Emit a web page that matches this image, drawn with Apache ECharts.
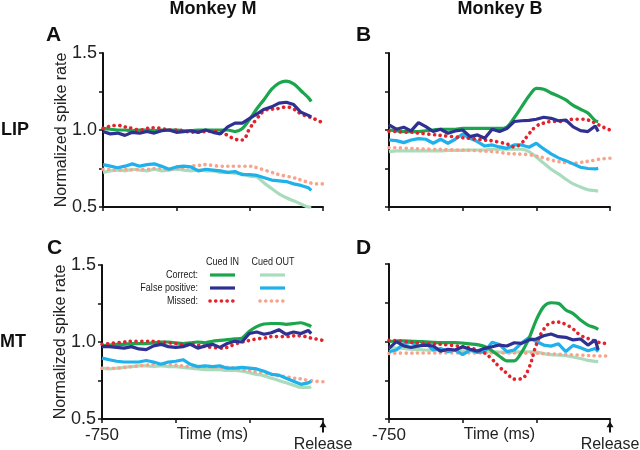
<!DOCTYPE html>
<html><head><meta charset="utf-8">
<script src="https://cdn.jsdelivr.net/npm/echarts@6/dist/echarts.min.js"></script>
<style>html,body{margin:0;padding:0;background:#fff}#c{width:640px;height:450px}</style>
</head><body><div id="c"></div>
<script>
// Time points (ms relative to release)
const T = [-750,-725,-700,-675,-650,-625,-600,-575,-550,-525,-500,-475,-450,-425,-400,-375,-350,-325,-300,-275,-250,-225,-200,-175,-150,-125,-100,-75,-50,-40,-25,0];
const xTicks = [-750, 0];
const yTickLabels = [0.5, 1.0, 1.5];
const colTitles = ['Monkey M', 'Monkey B'];
const rowTitles = ['LIP', 'MT'];
const panelLetters = ['A', 'B', 'C', 'D'];

// Panel A: Monkey M, LIP
const aCorrIn  = [1.01,1.005,1.0,1.0,0.995,1.0,1.0,0.995,1.0,1.0,1.0,0.995,0.995,1.0,1.0,1.0,1.0,1.0,0.99,1.01,1.07,1.14,1.2,1.265,1.305,1.318,1.3,1.255,1.21,1.185];
const aFalseIn = [0.99,0.975,0.98,0.965,0.985,0.98,0.99,0.98,0.995,1.0,0.985,0.99,0.995,0.985,1.0,0.985,0.975,1.02,1.045,1.045,1.075,1.105,1.135,1.15,1.175,1.18,1.165,1.115,1.095,1.085];
const aMissIn  = [1.01,1.025,1.03,1.02,1.01,1.0,1.01,1.015,1.01,1.0,1.0,0.995,0.985,0.985,0.99,0.99,0.985,0.965,0.94,0.935,1.01,1.075,1.125,1.135,1.14,1.15,1.135,1.105,1.087,1.08,1.068,1.045];
const aCorrOut = [0.725,0.735,0.74,0.735,0.745,0.74,0.735,0.745,0.735,0.74,0.745,0.74,0.735,0.74,0.735,0.735,0.725,0.725,0.72,0.715,0.7,0.695,0.655,0.62,0.585,0.56,0.54,0.52,0.5,0.5];
const aFalseOut= [0.775,0.765,0.755,0.765,0.78,0.765,0.775,0.78,0.765,0.745,0.76,0.765,0.76,0.735,0.745,0.74,0.735,0.725,0.73,0.71,0.71,0.705,0.69,0.675,0.67,0.665,0.65,0.64,0.625,0.608];
const aMissOut = [0.745,0.745,0.74,0.745,0.74,0.745,0.745,0.75,0.75,0.745,0.75,0.755,0.765,0.77,0.775,0.77,0.765,0.765,0.765,0.765,0.765,0.755,0.74,0.725,0.71,0.7,0.69,0.675,0.66,0.655,0.65,0.65];

// Panel B: Monkey B, LIP
const bCorrIn  = [1.0,0.995,0.99,0.99,0.99,0.995,1.0,1.005,1.005,1.005,1.01,1.01,1.01,1.01,1.01,1.01,1.02,1.08,1.15,1.22,1.27,1.265,1.24,1.22,1.195,1.16,1.135,1.11,1.06,1.055];
const bFalseIn = [1.033,1.005,1.018,0.994,1.048,1.022,0.99,1.005,0.979,0.994,1.0,0.957,0.968,0.946,1.005,0.99,1.01,1.055,1.06,1.063,1.07,1.083,1.076,1.06,1.065,1.02,0.996,0.99,1.026,0.99];
const bMissIn  = [0.99,0.99,0.985,0.985,0.98,0.975,0.97,0.965,0.96,0.955,0.95,0.945,0.94,0.935,0.93,0.92,0.91,0.89,0.915,0.975,1.025,1.045,1.055,1.055,1.06,1.07,1.07,1.065,1.045,1.035,1.02,1.0];
const bCorrOut = [0.86,0.865,0.865,0.865,0.865,0.865,0.865,0.865,0.868,0.868,0.868,0.87,0.87,0.87,0.875,0.875,0.875,0.875,0.875,0.86,0.825,0.785,0.745,0.715,0.68,0.65,0.63,0.612,0.606,0.604];
const bFalseOut= [0.935,0.931,0.918,0.935,0.944,0.94,0.914,0.94,0.914,0.94,0.974,0.946,0.925,0.896,0.903,0.89,0.881,0.903,0.903,0.888,0.914,0.877,0.845,0.819,0.801,0.78,0.758,0.75,0.747,0.751];
const bMissOut = [0.885,0.885,0.882,0.88,0.878,0.876,0.875,0.874,0.872,0.87,0.87,0.868,0.866,0.862,0.86,0.855,0.848,0.845,0.843,0.84,0.83,0.82,0.805,0.795,0.788,0.785,0.79,0.797,0.805,0.81,0.813,0.817];

// Panel C: Monkey M, MT
const cCorrIn  = [0.975,0.98,0.985,0.985,0.99,0.99,0.99,0.995,1.0,1.0,0.995,0.99,0.995,1.0,0.995,1.005,1.01,1.015,1.02,1.025,1.07,1.1,1.117,1.12,1.12,1.115,1.12,1.125,1.11,1.1];
const cFalseIn = [0.97,0.97,0.965,0.96,0.97,0.955,0.95,0.975,0.985,0.97,0.965,0.97,0.985,0.96,0.975,0.985,0.965,0.99,1.005,1.0,1.055,1.065,1.05,1.06,1.08,1.05,1.065,1.055,1.075,1.055];
const cMissIn  = [0.985,0.99,0.995,1.0,1.005,1.005,1.005,1.005,1.0,0.995,0.99,0.985,0.985,0.98,0.97,0.965,0.96,0.965,0.985,1.0,1.01,1.02,1.025,1.035,1.035,1.035,1.04,1.04,1.03,1.025,1.02,1.01];
const cCorrOut = [0.83,0.825,0.83,0.835,0.84,0.845,0.845,0.84,0.845,0.84,0.84,0.835,0.83,0.825,0.82,0.82,0.82,0.815,0.815,0.81,0.8,0.79,0.78,0.765,0.75,0.735,0.72,0.705,0.705,0.71];
const cFalseOut= [0.895,0.885,0.875,0.87,0.87,0.87,0.88,0.87,0.855,0.87,0.875,0.885,0.855,0.84,0.845,0.84,0.845,0.83,0.83,0.835,0.83,0.825,0.81,0.79,0.785,0.765,0.745,0.725,0.735,0.745];
const cMissOut = [0.83,0.83,0.83,0.835,0.84,0.845,0.85,0.855,0.855,0.855,0.85,0.845,0.84,0.84,0.84,0.84,0.835,0.835,0.83,0.82,0.815,0.805,0.8,0.79,0.78,0.775,0.765,0.76,0.75,0.748,0.745,0.742];

// Panel D: Monkey B, MT
const dCorrIn  = [1.0,1.003,1.005,1.002,1.0,0.998,0.995,0.993,0.993,0.993,0.99,0.985,0.98,0.968,0.94,0.905,0.875,0.875,0.93,1.02,1.14,1.225,1.25,1.246,1.203,1.18,1.138,1.106,1.089,1.078];
const dFalseIn = [0.956,0.999,0.971,0.962,0.971,0.977,0.971,0.938,0.95,0.945,0.966,0.95,0.938,0.956,0.966,0.977,0.971,0.992,0.988,1.01,1.016,1.037,1.048,1.031,1.027,1.01,1.016,0.977,1.01,0.945];
const dMissIn  = [1.008,1.005,1.0,0.995,0.99,0.988,0.985,0.982,0.978,0.972,0.966,0.958,0.945,0.925,0.885,0.835,0.795,0.757,0.76,0.83,0.98,1.078,1.12,1.125,1.11,1.08,1.04,1.02,1.0,0.995,0.99,0.983];
const dCorrOut = [0.962,0.958,0.955,0.95,0.948,0.945,0.944,0.943,0.943,0.942,0.94,0.94,0.938,0.936,0.934,0.932,0.93,0.932,0.934,0.934,0.932,0.922,0.915,0.912,0.908,0.9,0.89,0.878,0.872,0.87];
const dFalseOut= [0.935,0.945,0.985,0.995,0.97,0.99,0.945,0.955,0.935,0.945,0.915,0.945,0.93,0.935,0.995,0.98,0.935,0.945,0.99,1.025,1.0,0.977,0.97,0.985,0.935,0.975,0.96,0.94,0.955,0.935];
const dMissOut = [0.923,0.924,0.925,0.925,0.926,0.926,0.926,0.926,0.926,0.926,0.926,0.926,0.926,0.926,0.926,0.926,0.926,0.926,0.925,0.925,0.924,0.922,0.92,0.918,0.916,0.914,0.912,0.91,0.908,0.907,0.906,0.906];

const panels = [
  {corrOut:aCorrOut, missOut:aMissOut, falseOut:aFalseOut, corrIn:aCorrIn, missIn:aMissIn, falseIn:aFalseIn},
  {corrOut:bCorrOut, missOut:bMissOut, falseOut:bFalseOut, corrIn:bCorrIn, missIn:bMissIn, falseIn:bFalseIn},
  {corrOut:cCorrOut, missOut:cMissOut, falseOut:cFalseOut, corrIn:cCorrIn, missIn:cMissIn, falseIn:cFalseIn},
  {corrOut:dCorrOut, missOut:dMissOut, falseOut:dFalseOut, corrIn:dCorrIn, missIn:dMissIn, falseIn:dFalseIn}
];

const COL = {corrIn:'#1ba54c', falseIn:'#2e3192', missIn:'#e3232b', corrOut:'#a9dcbc', falseOut:'#1fb1ec', missOut:'#f6a58c'};
const DOT = {width:3.6, type:[0.1,5.6], cap:'round'};
const STY = {
  corrOut:{lineStyle:{width:3.2, color:COL.corrOut}, smooth:0.3},
  missOut:{lineStyle:Object.assign({color:COL.missOut}, DOT), smooth:0.4},
  falseOut:{lineStyle:{width:3.2, color:COL.falseOut}, smooth:0},
  corrIn:{lineStyle:{width:3.2, color:COL.corrIn}, smooth:0.3},
  missIn:{lineStyle:Object.assign({color:COL.missIn}, DOT), smooth:0.4},
  falseIn:{lineStyle:{width:3.2, color:COL.falseIn}, smooth:0}
};

const grids = [
  {left:103, top:53, width:220, height:154},
  {left:389, top:53, width:221, height:154},
  {left:102, top:265, width:221, height:154},
  {left:389, top:264, width:221, height:155}
].map(g => Object.assign({containLabel:false, outerBoundsMode:'none'}, g));

const FONT = 'Liberation Sans, Arial, Helvetica, sans-serif';
const axisLine = {show:true, onZero:false, lineStyle:{color:'#111', width:2}};
const axisTick = {show:true, length:4, lineStyle:{color:'#111', width:1.5}};

const xAxis = grids.map((g,i)=>{
  const bottom = i >= 2;
  return {
    type:'value', gridIndex:i, min:-750, max:0, interval:250,
    axisLine, axisTick, splitLine:{show:false},
    name: bottom ? 'Time (ms)' : '', nameLocation:'middle', nameGap:8, nameMoveOverlap:false,
    nameTextStyle:{fontFamily:FONT, fontSize:16, color:'#222', verticalAlign:'top'},
    axisLabel:{
      show:bottom, margin:8, showMinLabel:true, showMaxLabel:true, hideOverlap:false,
      formatter:v => (v === xTicks[0]) ? String(v) : '',
      fontFamily:FONT, fontSize:17, color:'#222'
    }
  };
});

const yAxis = grids.map((g,i)=>{
  const left = (i % 2 === 0);
  return {
    type:'value', gridIndex:i, min:0.5, max:1.5, interval:0.25,
    axisLine, axisTick, splitLine:{show:false},
    name: left ? 'Normalized spike rate' : '', nameLocation:'middle', nameGap:33, nameMoveOverlap:false,
    nameTextStyle:{fontFamily:FONT, fontSize:16, color:'#222'},
    axisLabel:{
      show:left, margin:6, fontFamily:FONT, fontSize:18, color:'#222',
      formatter:v => yTickLabels.some(t => Math.abs(t - v) < 1e-9) ? v.toFixed(1) : ''
    }
  };
});

const order = ['corrOut','missOut','falseOut','corrIn','missIn','falseIn'];
const series = [];
panels.forEach((p,i)=>{
  order.forEach(k=>{
    const s = {
      type:'line', xAxisIndex:i, yAxisIndex:i, showSymbol:false, symbol:'none',
      clip:false, silent:true, smooth:STY[k].smooth, lineStyle:STY[k].lineStyle,
      data:p[k].map((v,j)=>[T[j], v])
    };
    if (i >= 2 && k === 'falseIn') {
      s.markPoint = {
        silent:true,
        symbol:'path://M5,0 L10,8 L6.4,8 L6.4,15 L3.6,15 L3.6,8 L0,8 Z',
        symbolSize:[7,11], symbolOffset:[0,8],
        itemStyle:{color:'#111'},
        label:{show:true, position:'bottom', distance:4, formatter:'Release',
               fontFamily:FONT, fontSize:16, color:'#222'},
        data:[{coord:[xTicks[1],0.5]}]
      };
    }
    series.push(s);
  });
});

// Legend (in panel C) as text + sample lines
const legendGraphics = [];
const narrow = (txt, x, y, align, size) => ({
  type:'text', x:x, y:y, scaleX:0.82, silent:true,
  style:{text:txt, x:0, y:0, align:align, verticalAlign:'middle', font:size+'px ' + FONT, fill:'#222'}
});
legendGraphics.push(narrow('Cued IN', 222.5, 261.5, 'center', 11));
legendGraphics.push(narrow('Cued OUT', 273, 261.5, 'center', 11));
[['Correct:',275,'corrIn','corrOut'],['False positive:',288,'falseIn','falseOut'],['Missed:',301,'missIn','missOut']].forEach(r=>{
  legendGraphics.push(narrow(r[0], 198, r[1], 'right', 11));
  [[210,235,r[2]],[260,285,r[3]]].forEach(seg=>{
    const ls = STY[seg[2]].lineStyle;
    legendGraphics.push({
      type:'line', silent:true,
      shape:{x1:seg[0], y1:r[1], x2:seg[1], y2:r[1]},
      style:{stroke:ls.color, lineWidth:ls.width, lineDash:ls.type instanceof Array ? ls.type : null, lineCap:ls.cap || 'butt'}
    });
  });
});

const txt = (s, x, y, align, size, bold) => ({
  type:'text', x:x, y:y, silent:true,
  style:{text:s, x:0, y:0, align:align, verticalAlign:'middle', font:(bold?'bold ':'') + size + 'px ' + FONT, fill:'#111'}
});

const graphic = [
  txt(colTitles[0], 213, 9, 'center', 18, true),
  txt(colTitles[1], 500, 9, 'center', 18, true),
  txt(panelLetters[0], 46, 35.5, 'left', 21, true),
  txt(panelLetters[1], 356, 35.5, 'left', 21, true),
  txt(panelLetters[2], 47, 248.5, 'left', 21, true),
  txt(panelLetters[3], 356, 248.5, 'left', 21, true),
  txt(rowTitles[0], 1, 130, 'left', 18, true),
  txt(rowTitles[1], 0, 342, 'left', 18, true)
].concat(legendGraphics);

const chart = echarts.init(document.getElementById('c'), null, {renderer:'canvas'});
chart.setOption({
  animation:false,
  backgroundColor:'#fff',
  grid:grids,
  xAxis, yAxis, series, graphic
});
</script>
</body></html>
